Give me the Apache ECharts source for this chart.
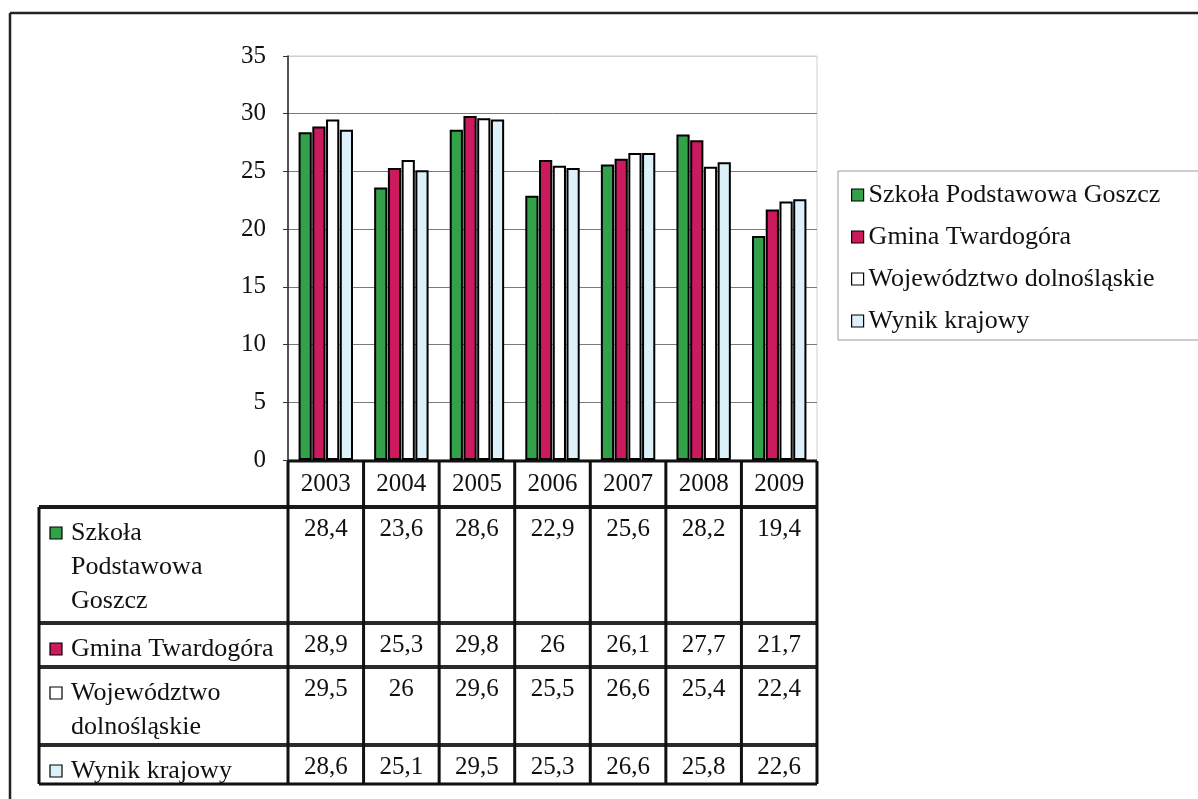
<!DOCTYPE html>
<html><head><meta charset="utf-8">
<script src="https://cdn.jsdelivr.net/npm/echarts@6/dist/echarts.min.js"></script>
<style>html,body{margin:0;padding:0;background:#fff}#c{width:1198px;height:799px}</style>
</head><body><div id="c"></div>
<script>
const years = ['2003','2004','2005','2006','2007','2008','2009'];
const seriesNames = ['Szkoła Podstawowa Goszcz','Gmina Twardogóra','Województwo dolnośląskie','Wynik krajowy'];
const tableLabels = ['Szkoła\nPodstawowa\nGoszcz','Gmina Twardogóra','Województwo\ndolnośląskie','Wynik krajowy'];
const szkola = [28.4, 23.6, 28.6, 22.9, 25.6, 28.2, 19.4];
const gmina = [28.9, 25.3, 29.8, 26, 26.1, 27.7, 21.7];
const wojewodztwo = [29.5, 26, 29.6, 25.5, 26.6, 25.4, 22.4];
const kraj = [28.6, 25.1, 29.5, 25.3, 26.6, 25.8, 22.6];
const yMin = 0, yMax = 35, yStep = 5;

const allValues = [szkola, gmina, wojewodztwo, kraj];
const colors = ['#33a04a', '#cc1a5e', '#ffffff', '#dcf1f9'];
const FONT = "'Liberation Serif', 'Times New Roman', serif";

const chart = echarts.init(document.getElementById('c'), null, {renderer: 'canvas'});

const gridLineColors = [];
for (let v = yMin; v <= yMax; v += yStep) gridLineColors.push(v === yMax ? '#cfcfcf' : '#7a7a7a');

const option = {
  backgroundColor: '#fff',
  animation: false,
  textStyle: {fontFamily: FONT},
  grid: {left: 288, top: 56, right: 381, bottom: 339, show: true, borderColor: '#d0d0d0', borderWidth: 1},
  legend: {
    orient: 'vertical', left: 838, top: 171,
    data: seriesNames,
    icon: 'rect', itemWidth: 12, itemHeight: 12, itemGap: 16,
    padding: [11, 10, 5, 13],
    borderWidth: 0,
    textStyle: {fontFamily: FONT, fontSize: 26, color: '#111', lineHeight: 26},
    itemStyle: {borderColor: '#000', borderWidth: 1.2}
  },
  xAxis: {
    type: 'category', data: years,
    axisLine: {show: false}, axisTick: {show: false}, axisLabel: {show: false}
  },
  yAxis: {
    type: 'value', min: yMin, max: yMax, interval: yStep,
    axisLine: {show: true, lineStyle: {color: '#222', width: 1.5}},
    axisTick: {show: true, length: 5, lineStyle: {color: '#333'}},
    axisLabel: {fontFamily: FONT, fontSize: 25, color: '#111', margin: 22},
    splitLine: {show: true, lineStyle: {color: gridLineColors, width: 1}}
  },
  series: seriesNames.map((n, i) => ({
    name: n, type: 'bar', data: allValues[i],
    barGap: '4%', barCategoryGap: '28%',
    itemStyle: {color: colors[i], borderColor: '#000', borderWidth: 2}
  }))
};
chart.setOption(option);

function fmt(v) { return String(v).replace('.', ','); }

function buildTable() {
  const c0 = chart.convertToPixel({xAxisIndex: 0}, years[0]);
  const c1 = chart.convertToPixel({xAxisIndex: 0}, years[1]);
  const bw = c1 - c0;
  const colLeft = c0 - bw / 2;
  const colRight = colLeft + bw * years.length;
  const headerTop = chart.convertToPixel({yAxisIndex: 0}, yMin) + 1;
  const headerBottom = 507;
  const rowBottoms = [623, 667, 745, 784];
  const tableLeft = 39;
  const LW = 3, LC = '#111';
  const els = [];
  const line = (x1, y1, x2, y2, w, col) => els.push({type: 'line', shape: {x1, y1, x2, y2}, style: {stroke: col || LC, lineWidth: w || LW}, silent: true});

  // legend frame (right side runs off the page, as in the original)
  els.push({type: 'rect', shape: {x: 838, y: 171, width: 420, height: 169}, silent: true, z: -1,
    style: {fill: 'none', stroke: '#9a9a9a', lineWidth: 1}});

  line(colLeft, headerTop, colRight, headerTop);
  line(tableLeft, headerBottom, colRight, headerBottom, 4, '#1a1a1a');
  rowBottoms.forEach((y, i) => line(tableLeft, y, colRight, y, i === rowBottoms.length - 1 ? 3 : 4, i === rowBottoms.length - 1 ? '#111' : '#2a2a2a'));
  line(tableLeft, headerBottom, tableLeft, rowBottoms[rowBottoms.length - 1]);
  for (let k = 0; k <= years.length; k++) {
    const x = colLeft + k * bw;
    line(x, headerTop, x, rowBottoms[rowBottoms.length - 1]);
  }
  years.forEach((y, k) => {
    els.push({type: 'text', x: colLeft + (k + 0.5) * bw, y: (headerTop + headerBottom) / 2, silent: true,
      style: {text: y, fontFamily: FONT, fontSize: 25, fill: '#111', align: 'center', verticalAlign: 'middle'}});
  });
  let top = headerBottom;
  tableLabels.forEach((lab, r) => {
    const labelCenter = top + 26;
    els.push({type: 'rect', shape: {x: 50, y: labelCenter - 6, width: 12, height: 12}, silent: true,
      style: {fill: colors[r], stroke: '#000', lineWidth: 1.2}});
    els.push({type: 'text', x: 71, y: labelCenter - 17, silent: true,
      style: {text: lab, fontFamily: FONT, fontSize: 26, lineHeight: 34, fill: '#111', align: 'left', verticalAlign: 'top'}});
    allValues[r].forEach((v, k) => {
      els.push({type: 'text', x: colLeft + (k + 0.5) * bw, y: top + 22, silent: true,
        style: {text: fmt(v), fontFamily: FONT, fontSize: 25, fill: '#111', align: 'center', verticalAlign: 'middle'}});
    });
    top = rowBottoms[r];
  });
  line(10, 13, 1198, 13, 2.5, '#222');
  line(10, 13, 10, 799, 2.5, '#222');
  chart.setOption({graphic: {elements: els}});
}
buildTable();
</script>
</body></html>
